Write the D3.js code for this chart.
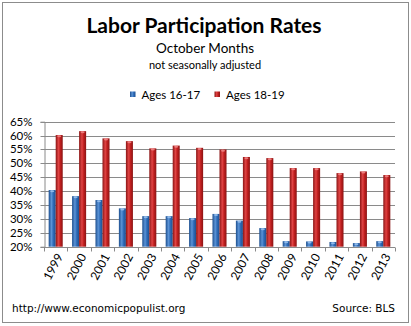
<!DOCTYPE html>
<html>
<head>
<meta charset="utf-8">
<script src="https://cdn.jsdelivr.net/npm/d3@7"></script>
<style>
  html, body { margin: 0; padding: 0; background: #fff; }
  svg { display: block; }
</style>
</head>
<body>
<svg id="chart" width="411" height="326"></svg>
<script>
// October participation rates (not seasonally adjusted), BLS
const years = ["1999","2000","2001","2002","2003","2004","2005","2006","2007","2008","2009","2010","2011","2012","2013"];
const ages1617 = [40.4, 38.2, 36.8, 33.8, 31.0, 31.0, 30.3, 31.8, 29.4, 26.7, 22.0, 21.9, 21.7, 21.3, 22.0];
const ages1819 = [60.2, 61.6, 59.0, 58.0, 55.4, 56.4, 55.6, 55.0, 52.3, 51.9, 48.3, 48.3, 46.5, 47.1, 45.8];
const seriesNames = ["Ages 16-17", "Ages 18-19"];
const yTicks = [20, 25, 30, 35, 40, 45, 50, 55, 60, 65];

const svg = d3.select("#chart");
const plot = { left: 44, right: 395, top: 121.7, bottom: 246.7 };
const mainFont = "Lato, 'Open Sans', sans-serif";
const footFont = "'DejaVu Sans', Verdana, sans-serif";

// gradients giving the bars a rounded, cylindrical look
const defs = svg.append("defs");
function cylinder(id, edge, mid, light) {
  const g = defs.append("linearGradient").attr("id", id)
    .attr("x1", "0%").attr("x2", "100%").attr("y1", "0%").attr("y2", "0%");
  g.append("stop").attr("offset", "0%").attr("stop-color", edge);
  g.append("stop").attr("offset", "40%").attr("stop-color", light);
  g.append("stop").attr("offset", "65%").attr("stop-color", mid);
  g.append("stop").attr("offset", "100%").attr("stop-color", edge);
}
cylinder("gBlue", "#1d4f8f", "#2f6cb8", "#5b93d6");
cylinder("gRed", "#8a1414", "#c01f1f", "#e04444");

// outer chart border
svg.append("rect").attr("x", 2.5).attr("y", 2.5).attr("width", 406).attr("height", 320)
  .attr("fill", "#fff").attr("stroke", "#8c8c8c").attr("stroke-width", 1);

// titles
svg.append("text").attr("x", 204).attr("y", 33).attr("text-anchor", "middle")
  .attr("font-family", mainFont).attr("font-weight", "bold").attr("font-size", 21)
  .attr("fill", "#000").text("Labor Participation Rates");
svg.append("text").attr("x", 205).attr("y", 53).attr("text-anchor", "middle")
  .attr("font-family", mainFont).attr("font-size", 13.5)
  .attr("fill", "#000").text("October Months");
svg.append("text").attr("x", 205).attr("y", 69).attr("text-anchor", "middle")
  .attr("font-family", mainFont).attr("font-size", 11)
  .attr("fill", "#000").text("not seasonally adjusted");

// scales
const x = d3.scaleBand().domain(years).range([plot.left, plot.right])
  .paddingInner(0.4).paddingOuter(0.2);
const xs = d3.scaleBand().domain(seriesNames).range([0, x.bandwidth()]);
const y = d3.scaleLinear().domain([20, 65]).range([plot.bottom, plot.top]);

// horizontal gridlines
svg.append("g").selectAll("line").data(yTicks.filter(t => t > 20)).join("line")
  .attr("x1", plot.left).attr("x2", plot.right)
  .attr("y1", d => Math.round(y(d)) + 0.5).attr("y2", d => Math.round(y(d)) + 0.5)
  .attr("stroke", "#8a8a8a").attr("stroke-width", 1);

// y axis
const yAxis = d3.axisLeft(y).tickValues(yTicks).tickSize(4).tickFormat(d => d + "%");
const gy = svg.append("g").attr("transform", `translate(${plot.left + 0.5},0)`).call(yAxis);
gy.select(".domain").attr("stroke", "#8a8a8a");
gy.selectAll(".tick line").attr("stroke", "#8a8a8a");
gy.selectAll(".tick").attr("transform", d => `translate(0,${Math.round(y(d)) + 0.5})`);
gy.selectAll("text").attr("font-family", mainFont).attr("font-size", 11.5).attr("fill", "#000")
  .attr("x", -12);

// bars
const data = years.map((yr, i) => ({ year: yr, vals: [ages1617[i], ages1819[i]] }));
const groups = svg.append("g").selectAll("g").data(data).join("g")
  .attr("transform", d => `translate(${x(d.year)},0)`);
groups.selectAll("rect.bar").data(d => d.vals.map((v, k) => ({ v, k }))).join("rect")
  .attr("class", "bar")
  .attr("x", d => xs(seriesNames[d.k]))
  .attr("width", xs.bandwidth())
  .attr("y", d => y(d.v))
  .attr("height", d => y(20) - y(d.v))
  .attr("fill", d => d.k === 0 ? "url(#gBlue)" : "url(#gRed)");
// light cap at the top of each bar
groups.selectAll("ellipse.cap").data(d => d.vals.map((v, k) => ({ v, k }))).join("ellipse")
  .attr("class", "cap")
  .attr("cx", d => xs(seriesNames[d.k]) + xs.bandwidth() / 2)
  .attr("cy", d => y(d.v) + 1.2)
  .attr("rx", xs.bandwidth() / 2 - 1.5).attr("ry", 1)
  .attr("fill", d => d.k === 0 ? "#9cc3ee" : "#f08a8a").attr("opacity", 0.85);

// x axis
const gx = svg.append("g").attr("transform", `translate(0,${Math.round(plot.bottom) + 0.5})`);
gx.append("line").attr("x1", plot.left).attr("x2", plot.right).attr("stroke", "#8a8a8a");
const step = x.step();
const bounds = d3.range(years.length + 1).map(i => plot.left + i * step);
gx.selectAll("line.tk").data(bounds).join("line").attr("class", "tk")
  .attr("x1", d => Math.round(d) + 0.5).attr("x2", d => Math.round(d) + 0.5)
  .attr("y1", 0).attr("y2", 4).attr("stroke", "#8a8a8a");
gx.selectAll("text").data(years).join("text")
  .attr("transform", d => `translate(${x(d) + x.bandwidth() / 2 + 4},${7}) rotate(-62)`)
  .attr("text-anchor", "end").attr("dy", "0.35em")
  .attr("font-family", mainFont).attr("font-size", 12).attr("fill", "#000")
  .text(d => d);

// legend
const legend = svg.append("g");
const legendItems = [
  { name: seriesNames[0], x: 130, fill: "url(#gBlue)" },
  { name: seriesNames[1], x: 214.5, fill: "url(#gRed)" }
];
legendItems.forEach(it => {
  legend.append("rect").attr("x", it.x).attr("y", 91.5).attr("width", 5.5).attr("height", 5.5)
    .attr("fill", it.fill);
  legend.append("text").attr("x", it.x + 11.5).attr("y", 98.5)
    .attr("font-family", mainFont).attr("font-size", 11.5).attr("fill", "#000").text(it.name);
});

// footer
svg.append("text").attr("x", 12).attr("y", 311.5)
  .attr("font-family", footFont).attr("font-size", 10.5).attr("fill", "#000")
  .text("http://www.economicpopulist.org");
svg.append("text").attr("x", 395).attr("y", 311.5).attr("text-anchor", "end")
  .attr("font-family", footFont).attr("font-size", 10.5).attr("fill", "#000")
  .text("Source: BLS");
</script>
</body>
</html>
